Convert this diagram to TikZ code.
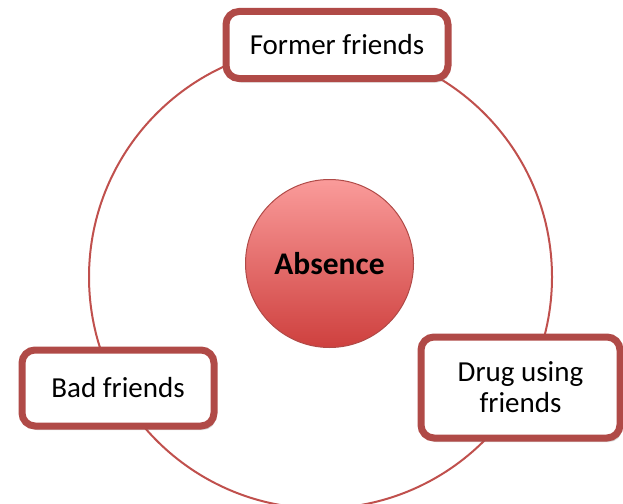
\documentclass[tikz,border=0pt]{standalone}
\usepackage{fontspec}
\setmainfont{Carlito}
\usetikzlibrary{shadows}
\definecolor{ringred}{RGB}{192,80,77}
\definecolor{boxred}{RGB}{176,74,71}
\definecolor{pinktop}{RGB}{250,155,154}
\definecolor{redbottom}{RGB}{206,64,62}

\begin{document}
\begin{tikzpicture}[x=1pt, y=-1pt,
  friendbox/.style={draw=boxred, line width=7pt, fill=white, rounded corners=13pt,
    align=center, font=\fontsize{29}{31}\selectfont,
    drop shadow={opacity=0.3, shadow xshift=2pt, shadow yshift=-4pt}},
  hubcircle/.style={circle, draw=boxred, line width=1pt, top color=pinktop,
    bottom color=redbottom, minimum size=168pt,
    font=\bfseries\fontsize{31.5}{36}\selectfont}]

\useasboundingbox (0,0) rectangle (623,503) ;

\coordinate (hub) at (320.5,277) ;
\draw [ringred, line width=2pt] (hub) circle [radius=231.5] ;

\node [friendbox, minimum width=222pt, minimum height=67pt] (former) at (337,45) {Former friends} ;
\node [friendbox, minimum width=192pt, minimum height=76pt] (bad) at (118,388) {Bad friends} ;
\node [friendbox, minimum width=199pt, minimum height=101pt] (drug) at (520.5,387.5) {Drug using\\friends} ;

\node [hubcircle] (absence) at (329.5,263.5) {Absence} ;

\end{tikzpicture}
\end{document}
